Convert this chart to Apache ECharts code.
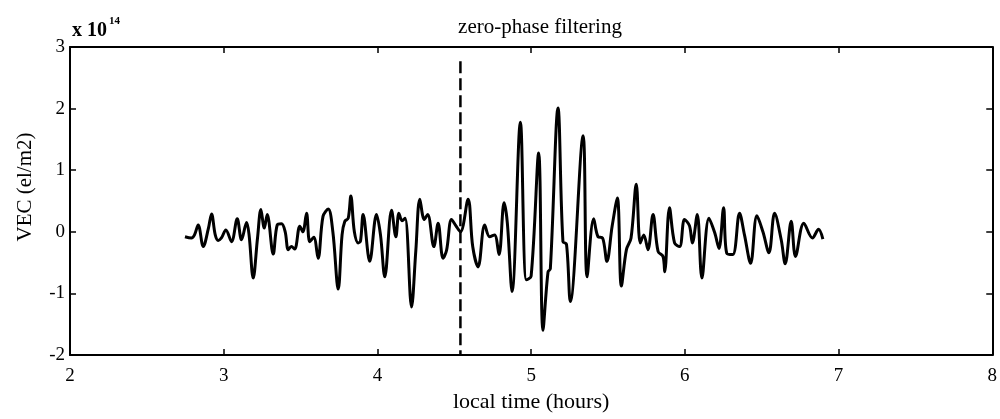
<!DOCTYPE html>
<html>
<head>
<meta charset="utf-8">
<script src="https://cdn.jsdelivr.net/npm/echarts@6/dist/echarts.min.js"></script>
<style>
html,body{margin:0;padding:0;background:#fff;}
#chart{width:1000px;height:419px;}
</style>
</head>
<body>
<div id="chart"></div>
<script>
// local time (hours)
var timeHours = [
2.748,2.79,2.81,2.834,2.867,2.90,2.921,2.945,2.964,2.985,
3.014,3.051,3.088,3.116,3.149,3.165,3.192,3.22,3.242,3.264,
3.283,3.322,3.348,3.376,3.40,3.42,3.44,3.462,3.495,3.515,
3.539,3.56,3.586,3.614,3.646,3.68,3.71,3.745,3.77,3.788,
3.81,3.827,3.85,3.875,3.89,3.907,3.95,3.994,4.02,4.048,
4.092,4.12,4.14,4.16,4.18,4.222,4.25,4.276,4.305,4.327,
4.367,4.395,4.427,4.45,4.482,4.51,4.54,4.59,4.62,4.655,
4.698,4.73,4.762,4.791,4.824,4.845,4.876,4.93,4.969,5.00,
5.049,5.077,5.11,5.125,5.175,5.207,5.23,5.255,5.338,5.364,
5.407,5.435,5.465,5.493,5.527,5.561,5.587,5.62,5.65,5.684,
5.71,5.733,5.76,5.793,5.826,5.858,5.869,5.90,5.933,5.966,
5.998,6.03,6.049,6.081,6.111,6.157,6.195,6.222,6.252,6.273,
6.312,6.356,6.388,6.428,6.469,6.508,6.547,6.584,6.627,6.653,
6.692,6.72,6.774,6.83,6.87,6.898
];
// VEC (x 10^14 el/m2)
var vecValues = [
-0.08,-0.10,-0.05,0.11,-0.24,0.05,0.29,-0.05,-0.14,-0.10,
0.03,-0.16,0.21,-0.13,0.15,-0.05,-0.75,-0.10,0.36,0.06,
0.28,-0.36,0.11,0.13,0.0,-0.29,-0.24,-0.28,0.09,0.0,
0.30,-0.16,-0.09,-0.43,0.25,0.37,0.0,-0.93,-0.05,0.17,
0.22,0.58,0.0,-0.18,-0.15,0.28,-0.48,0.28,-0.05,-0.73,
0.35,-0.08,0.30,0.18,0.22,-1.22,-0.30,0.53,0.20,0.28,
-0.24,0.14,-0.43,-0.30,0.20,0.10,0.0,0.53,-0.24,-0.57,
0.11,-0.08,-0.05,-0.37,0.47,0.15,-0.97,1.78,-0.78,-0.72,
1.28,-1.60,-0.65,-0.60,2.01,-0.16,-0.20,-1.13,1.56,-0.73,
0.21,-0.08,-0.10,-0.48,0.09,0.55,-0.88,-0.29,-0.10,0.77,
-0.18,-0.05,-0.29,0.28,-0.32,-0.40,-0.65,0.39,-0.18,-0.24,
0.20,0.10,-0.18,0.28,-0.75,0.22,-0.02,-0.27,0.39,-0.35,
-0.37,0.30,-0.05,-0.51,0.26,0.0,-0.34,0.30,-0.13,-0.52,
0.17,-0.40,0.14,-0.10,0.04,-0.12
];
// dashed reference line
var markerTime = [4.54, 4.54];
var markerVec = [2.77, -2.0];
var xTicks = [2, 3, 4, 5, 6, 7, 8];
var yTicks = [-2, -1, 0, 1, 2, 3];

var titleText = 'zero-phase filtering';
var xName = 'local time (hours)';
var yName = 'VEC (el/m2)';

var curve = timeHours.map(function (t, i) { return [t, vecValues[i]]; });
var marker = markerTime.map(function (t, i) { return [t, markerVec[i]]; });

var serif = '"Liberation Serif", "DejaVu Serif", serif';
var chart = echarts.init(document.getElementById('chart'), null, {renderer: 'canvas'});

function axisCommon(showLabel) {
  return {
    axisLine: {show: true, onZero: false, lineStyle: {color: '#000', width: 2}},
    axisTick: {show: true, inside: true, length: 6, lineStyle: {color: '#000', width: 1.5}},
    axisLabel: {show: showLabel, color: '#000', fontFamily: serif, fontSize: 19},
    splitLine: {show: false}
  };
}

chart.setOption({
  animation: false,
  backgroundColor: '#fff',
  title: {
    text: titleText, left: 535, top: 12, textAlign: 'center',
    textStyle: {fontFamily: serif, fontSize: 21, fontWeight: 'normal', color: '#000'}
  },
  graphic: [{
    type: 'text', left: 72, top: 16,
    style: {
      text: '{a|x 10}{b|14}',
      rich: {
        a: {fontFamily: serif, fontSize: 20, fontWeight: 'bold', fill: '#000', verticalAlign: 'bottom'},
        b: {fontFamily: serif, fontSize: 11, fontWeight: 'bold', fill: '#000', verticalAlign: 'top', padding: [0,0,14,2]}
      }
    }
  }, {
    type: 'text', x: 25, y: 187, rotation: Math.PI / 2,
    style: {
      text: yName, fontFamily: serif, fontSize: 21, fill: '#000',
      align: 'center', verticalAlign: 'middle'
    }
  }],
  grid: {left: 70, right: 7, top: 47, bottom: 64, containLabel: false},
  xAxis: [
    Object.assign({type: 'value', min: 2, max: 8, interval: 1, position: 'bottom',
      name: xName, nameLocation: 'middle', nameGap: 35,
      nameTextStyle: {fontFamily: serif, fontSize: 22, color: '#000'}}, axisCommon(true),
      {axisLabel: {show: true, color: '#000', fontFamily: serif, fontSize: 19, margin: 12,
        formatter: function (v) { return xTicks.indexOf(v) >= 0 ? String(v) : ''; }}}),
    Object.assign({type: 'value', min: 2, max: 8, interval: 1, position: 'top'}, axisCommon(false))
  ],
  yAxis: [
    Object.assign({type: 'value', min: -2, max: 3, interval: 1, position: 'left'}, axisCommon(true),
      {axisLabel: {show: true, color: '#000', fontFamily: serif, fontSize: 19, margin: 5,
        formatter: function (v) { return yTicks.indexOf(v) >= 0 ? String(v) : ''; }}}),
    Object.assign({type: 'value', min: -2, max: 3, interval: 1, position: 'right'}, axisCommon(false))
  ],
  series: [
    {
      type: 'line', data: curve, showSymbol: false, smooth: 0.35,
      lineStyle: {color: '#000', width: 3}, z: 3
    },
    {
      type: 'line', data: marker, showSymbol: false,
      lineStyle: {color: '#000', width: 2.5, type: [12, 5]}, z: 2
    }
  ]
});
</script>
</body>
</html>
